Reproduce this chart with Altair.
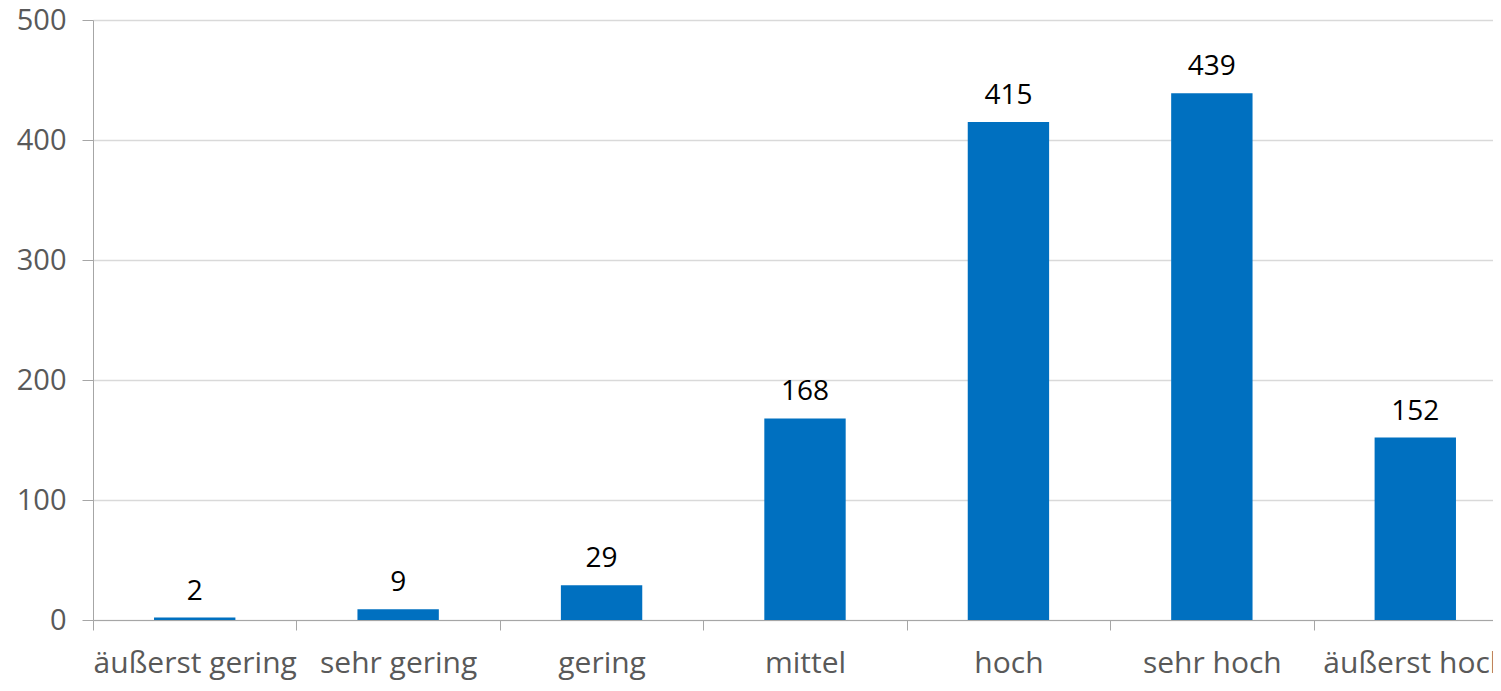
import altair as alt
import pandas as pd

categories = ["äußerst gering", "sehr gering", "gering", "mittel", "hoch", "sehr hoch", "äußerst hoch"]
values = [2, 9, 29, 168, 415, 439, 152]

df = pd.DataFrame({"cat": categories, "val": values})

FONT = "Open Sans"

x = alt.X("cat:N", sort=categories, title=None,
          scale=alt.Scale(paddingInner=0, paddingOuter=0, range=[0, 1424]),
          axis=alt.Axis(labelAngle=0, tickBand="extent", tickSize=10, labelPadding=18,
                        labelFontSize=30, labelColor="#595959", labelFont=FONT,
                        domainColor="#a6a6a6", tickColor="#a6a6a6", labelOverlap=False,
                        labelLimit=0))
y = alt.Y("val:Q", title=None,
          scale=alt.Scale(domain=[0, 500], nice=False),
          axis=alt.Axis(values=[0, 100, 200, 300, 400, 500], tickSize=11, labelPadding=16,
                        labelFontSize=29, labelColor="#595959", labelFont=FONT,
                        domainColor="#a6a6a6", tickColor="#a6a6a6",
                        gridColor="#d9d9d9", gridWidth=1.5))

bars = alt.Chart(df).mark_bar(color="#0070C0", width=alt.RelativeBandSize(0.4)).encode(x=x, y=y)
labels = alt.Chart(df).mark_text(fontSize=28, font=FONT, color="#000000", baseline="alphabetic", dy=-18).encode(
    x=alt.X("cat:N", sort=categories), y="val:Q", text="val:Q")

chart = alt.layer(bars, labels).properties(
    width=1400, height=600,
    autosize=alt.AutoSizeParams(type="none"),
    padding={"left": 85, "top": 12, "right": 0, "bottom": 63},
).configure_view(stroke=None).configure_axis(grid=False).configure_axisY(grid=True)

chart.save("out.html", embed_options={"renderer": "svg", "actions": False})
